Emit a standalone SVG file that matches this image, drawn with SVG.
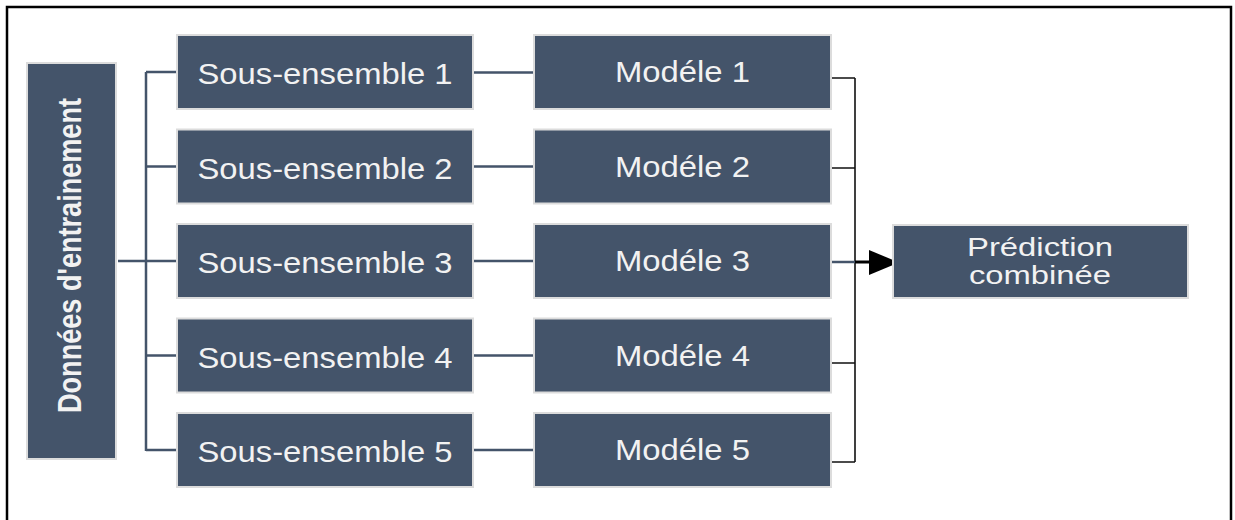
<svg xmlns="http://www.w3.org/2000/svg" width="1235" height="520" viewBox="0 0 1235 520">
<style>
.box{fill:#44546a;stroke:#dcdcdc;stroke-width:2}
.lbl{fill:#f2f2f2;font-family:"Liberation Sans",Arial,sans-serif;font-size:30px;text-anchor:middle}
.c{fill:none;stroke:#44546a;stroke-width:2.5}
.k{fill:none;stroke:#111;stroke-width:1.6}
</style>
<rect x="7" y="7" width="1224" height="530" fill="#fff" stroke="#000" stroke-width="2.5"/>
<g id="connectors">
<path class="c" d="M146 72V451M146 72H177M146 166.5H177M118 261H177M146 355.5H177M146 450H177"/>
<path class="c" d="M473 72.5H534M473 166.5H534M473 261H534M473 355.5H534M473 450H534"/>
<path class="k" d="M831 78H855M831 168H855M831 363H855M827 462H855M855 78V462"/>
<path d="M831 262H856" stroke="#44546a" stroke-width="2.5"/>
<path d="M855 262H871" stroke="#000" stroke-width="3"/>
<polygon points="869,250 899,262.5 869,275" fill="#000"/>
</g>
<g id="donnees">
<rect class="box" x="27" y="63" width="89" height="396"/>
<text class="lbl" transform="translate(81,255.5) rotate(-90)" style="font-size:34px;font-weight:bold" textLength="315" lengthAdjust="spacingAndGlyphs">Données d'entrainement</text>
</g>
<g id="sous1"><rect class="box" x="177" y="35" width="296" height="74"/><text class="lbl" x="325" y="84" textLength="255" lengthAdjust="spacingAndGlyphs">Sous-ensemble 1</text></g>
<g id="sous2"><rect class="box" x="177" y="129.5" width="296" height="74"/><text class="lbl" x="325" y="178.5" textLength="255" lengthAdjust="spacingAndGlyphs">Sous-ensemble 2</text></g>
<g id="sous3"><rect class="box" x="177" y="224" width="296" height="74"/><text class="lbl" x="325" y="273" textLength="255" lengthAdjust="spacingAndGlyphs">Sous-ensemble 3</text></g>
<g id="sous4"><rect class="box" x="177" y="318.5" width="296" height="74"/><text class="lbl" x="325" y="367.5" textLength="255" lengthAdjust="spacingAndGlyphs">Sous-ensemble 4</text></g>
<g id="sous5"><rect class="box" x="177" y="413" width="296" height="74"/><text class="lbl" x="325" y="462" textLength="255" lengthAdjust="spacingAndGlyphs">Sous-ensemble 5</text></g>
<g id="modele1"><rect class="box" x="534" y="35" width="297" height="74"/><text class="lbl" x="682.5" y="82" textLength="135" lengthAdjust="spacingAndGlyphs">Modéle 1</text></g>
<g id="modele2"><rect class="box" x="534" y="129.5" width="297" height="74"/><text class="lbl" x="682.5" y="176.5" textLength="135" lengthAdjust="spacingAndGlyphs">Modéle 2</text></g>
<g id="modele3"><rect class="box" x="534" y="224" width="297" height="74"/><text class="lbl" x="682.5" y="271" textLength="135" lengthAdjust="spacingAndGlyphs">Modéle 3</text></g>
<g id="modele4"><rect class="box" x="534" y="318.5" width="297" height="74"/><text class="lbl" x="682.5" y="365.5" textLength="135" lengthAdjust="spacingAndGlyphs">Modéle 4</text></g>
<g id="modele5"><rect class="box" x="534" y="413" width="297" height="74"/><text class="lbl" x="682.5" y="460" textLength="135" lengthAdjust="spacingAndGlyphs">Modéle 5</text></g>
<g id="prediction"><rect class="box" x="893" y="225" width="295" height="73"/>
<text class="lbl" x="1040" y="256" style="font-size:25px" textLength="146" lengthAdjust="spacingAndGlyphs">Prédiction</text>
<text class="lbl" x="1040" y="284" style="font-size:25px" textLength="142" lengthAdjust="spacingAndGlyphs">combinée</text></g>
</svg>
